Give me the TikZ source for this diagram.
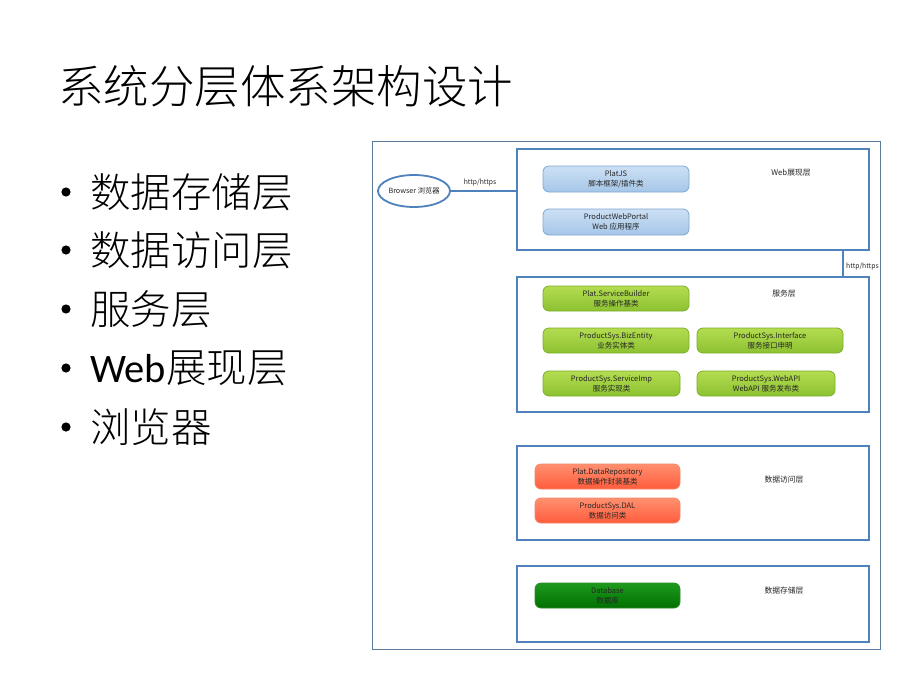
\documentclass[tikz,border=0pt]{standalone}
\usepackage{fontspec}
\setmainfont{Carlito}
\newfontfamily\cjk{Noto Sans CJK SC}
\newfontfamily\cjkl{Noto Sans CJK SC}[UprightFont={* Light}]
\usetikzlibrary{shapes.geometric}
\definecolor{layerblue}{HTML}{4F81BD}
\definecolor{framecol}{HTML}{5A7A9A}
\definecolor{blueT}{HTML}{CCE0F4}
\definecolor{blueB}{HTML}{A6C6E8}
\definecolor{blueD}{HTML}{7EA6D3}
\definecolor{greenT}{HTML}{B4DC50}
\definecolor{greenB}{HTML}{8CC232}
\definecolor{greenD}{HTML}{7CAE28}
\definecolor{redT}{HTML}{FF9070}
\definecolor{redB}{HTML}{FF5C3C}
\definecolor{redD}{HTML}{F08868}
\definecolor{dgreenT}{HTML}{1E9A1E}
\definecolor{dgreenB}{HTML}{007000}
\definecolor{dgreenD}{HTML}{2E8B2E}
\definecolor{txt}{HTML}{262626}
\tikzset{
  layerbox/.style={draw=layerblue, line width=2pt, fill=white, inner sep=0pt},
  comp/.style={rounded corners=6pt, inner sep=0pt, align=center, text=txt,
    font=\cjk\fontsize{7.5}{10}\selectfont, line width=0.8pt},
  bluecomp/.style={comp, draw=blueD, top color=blueT, bottom color=blueB},
  greencomp/.style={comp, draw=greenD, top color=greenT, bottom color=greenB},
  redcomp/.style={comp, draw=redD, top color=redT, bottom color=redB},
  dgreencomp/.style={comp, draw=dgreenD, top color=dgreenT, bottom color=dgreenB},
  layerlabel/.style={font=\cjk\fontsize{7.8}{9}\selectfont, text=txt, inner sep=0pt},
  wire/.style={draw=layerblue, line width=1.6pt},
  wirelabel/.style={font=\cjk\fontsize{6.8}{8}\selectfont, text=txt, inner sep=0pt},
  bullettext/.style={anchor=west, font=\cjkl\fontsize{40.5}{42}\selectfont, inner sep=0pt},
}
\begin{document}
\begin{tikzpicture}[x=1pt,y=-1pt]
\useasboundingbox (0,0) rectangle (920,690);
\fill[white] (0,0) rectangle (920,690);

% title
\node[anchor=west, inner sep=0pt, font=\cjkl\fontsize{45.5}{47}\selectfont] (title) at (58,86) {系统分层体系架构设计};

% bullets
\node[bullettext] (b1) at (90,192) {数据存储层};
\node[bullettext] (b2) at (90,250) {数据访问层};
\node[bullettext] (b3) at (90,309) {服务层};
\node[bullettext] (b4) at (90,368) {{\fontspec{Carlito}Web}展现层};
\node[bullettext] (b5) at (90,427) {浏览器};
\foreach \yy in {192,250,309,368,427} \fill (66,\yy) circle (4.6pt);

% outer frame
\node[draw=framecol, line width=0.9pt, minimum width=508pt, minimum height=508pt, inner sep=0pt] (frame) at (626,395) {};

% layers
\node[layerbox, minimum width=352pt, minimum height=101pt] (web) at (693,199.5) {};
\node[layerbox, minimum width=352pt, minimum height=135pt] (svc) at (693,344.5) {};
\node[layerbox, minimum width=352pt, minimum height=94pt] (dal) at (693,493) {};
\node[layerbox, minimum width=352pt, minimum height=76pt] (db) at (693,604) {};

% layer labels
\node[layerlabel] (lweb) at (791,173) {Web展现层};
\node[layerlabel] (lsvc) at (784,294) {服务层};
\node[layerlabel] (ldal) at (784,480) {数据访问层};
\node[layerlabel] (ldb) at (784,591) {数据存储层};

% browser
\node[ellipse, draw=layerblue, line width=1.8pt, fill=white, minimum width=72pt, minimum height=32pt, inner sep=0pt,
  font=\cjk\fontsize{7.2}{8}\selectfont, text=txt] (browser) at (414,191) {Browser 浏览器};
\draw[wire] (browser.east) -- (browser -| web.west);
\node[wirelabel] (h1) at (480,183) {http/https};

% web -> service connector
\coordinate (c1) at ([xshift=150pt]web.south);
\coordinate (c2) at ([xshift=150pt]svc.north);
\draw[wire] (c1) -- (c2);
\node[wirelabel, anchor=west] (h2) at (846,267) {http/https};

% web components
\node[bluecomp, minimum width=146pt, minimum height=26pt] (platjs) at (616,179) {PlatJS\\脚本框架/插件类};
\node[bluecomp, minimum width=146pt, minimum height=26pt] (portal) at (616,222) {ProductWebPortal\\Web 应用程序};

% service components
\node[greencomp, minimum width=146pt, minimum height=25pt] (sb) at (616,298.5) {Plat.ServiceBuilder\\服务操作基类};
\node[greencomp, minimum width=146pt, minimum height=25pt] (biz) at (616,340.5) {ProductSys.BizEntity\\业务实体类};
\node[greencomp, minimum width=146pt, minimum height=25pt] (itf) at (770,340.5) {ProductSys.Interface\\服务接口申明};
\node[greencomp, minimum width=137pt, minimum height=25pt] (imp) at (611.5,383.5) {ProductSys.ServiceImp\\服务实现类};
\node[greencomp, minimum width=138pt, minimum height=25pt] (api) at (766,383.5) {ProductSys.WebAPI\\WebAPI 服务发布类};

% data access components
\node[redcomp, minimum width=145pt, minimum height=25pt] (repo) at (607.5,476.5) {Plat.DataRepository\\数据操作封装基类};
\node[redcomp, minimum width=145pt, minimum height=25pt] (dalc) at (607.5,510.5) {ProductSys.DAL\\数据访问类};

% storage
\node[dgreencomp, minimum width=145pt, minimum height=25pt] (dbase) at (607.5,595.5) {Database\\数据库};
\end{tikzpicture}
\end{document}
